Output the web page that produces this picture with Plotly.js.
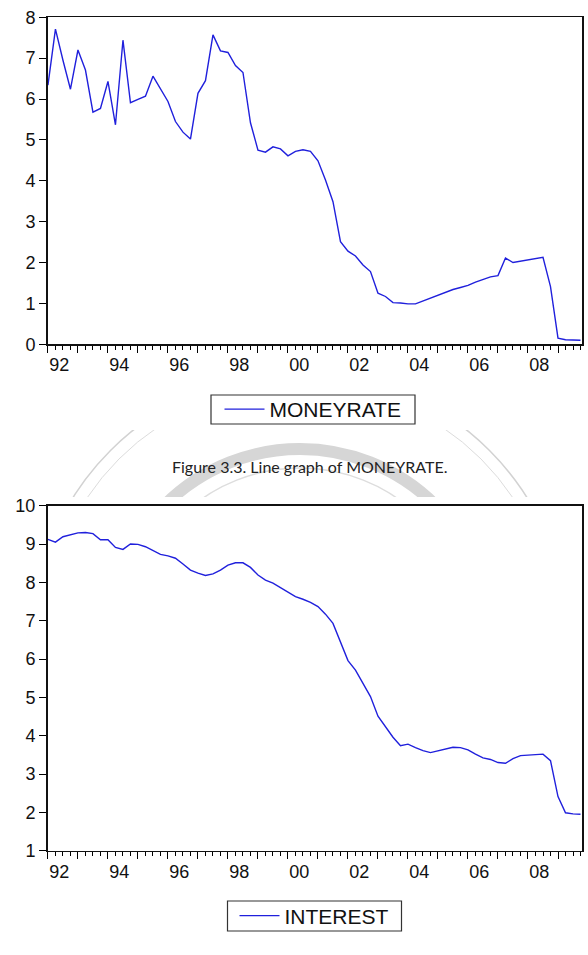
<!DOCTYPE html>
<html>
<head>
<meta charset="utf-8">
<script src="https://cdn.plot.ly/plotly-3.0.1.min.js"></script>
<style>
  html, body { margin: 0; padding: 0; background: #fff; }
  #chart { width: 588px; height: 955px; }
</style>
</head>
<body>
<div id="chart"></div>
<script>
// Quarterly series, 1992Q1 - 2009Q4
const firstYear = 1992;
const lastYear = 2009;

const moneyrate = [
  6.34, 7.71, 6.95, 6.24, 7.20, 6.71, 5.68, 5.77, 6.43, 5.37,
  7.44, 5.91, 5.99, 6.07, 6.56, 6.26, 5.94, 5.45, 5.19, 5.02,
  6.14, 6.45, 7.57, 7.18, 7.14, 6.82, 6.65, 5.42, 4.75, 4.70,
  4.83, 4.78, 4.61, 4.72, 4.76, 4.72, 4.49, 4.02, 3.49, 2.51,
  2.28, 2.16, 1.94, 1.78, 1.25, 1.17, 1.02, 1.01, 0.99, 0.99,
  1.06, 1.14, 1.21, 1.27, 1.34, 1.39, 1.44, 1.52, 1.59, 1.65,
  1.68, 2.11, 2.00, 2.03, 2.07, 2.09, 2.13, 1.41, 0.15, 0.11,
  0.10, 0.10
];

const interest = [
  9.12, 9.05, 9.19, 9.25, 9.29, 9.30, 9.27, 9.11, 9.11, 8.91,
  8.86, 9.00, 8.99, 8.93, 8.83, 8.73, 8.69, 8.63, 8.48, 8.32,
  8.24, 8.18, 8.22, 8.32, 8.45, 8.51, 8.51, 8.39, 8.19, 8.06,
  7.98, 7.86, 7.74, 7.63, 7.56, 7.48, 7.37, 7.17, 6.93, 6.45,
  5.96, 5.71, 5.38, 5.02, 4.51, 4.22, 3.96, 3.74, 3.78, 3.69,
  3.61, 3.56, 3.61, 3.67, 3.70, 3.69, 3.63, 3.52, 3.42, 3.38,
  3.30, 3.28, 3.40, 3.48, 3.49, 3.50, 3.52, 3.35, 2.41, 1.99,
  1.96, 1.95
];

const yearLabelText = ['92', '94', '96', '98', '00', '02', '04', '06', '08'];
const yearLabelAt   = [1992, 1994, 1996, 1998, 2000, 2002, 2004, 2006, 2008];

const moneyTicks    = [0, 1, 2, 3, 4, 5, 6, 7, 8];
const interestTicks = [1, 2, 3, 4, 5, 6, 7, 8, 9, 10];

const caption = 'Figure 3.3. Line graph of MONEYRATE.';

// quarter positions on a decimal-year scale
const quarterPos = [];
for (let y = firstYear; y <= lastYear; y++) {
  for (let q = 0; q < 4; q++) quarterPos.push(y + q / 4);
}
// year labels sit in the middle of each year's four quarters
const labelPos = yearLabelAt.map(y => y + 0.375);

const W = 588, H = 955;
const px = v => v / W;
const py = v => 1 - v / H;

const FONT = 'Liberation Sans, Arial, sans-serif';
const LINE = '#2020dc';
const xRange = [1991.985, 2009.8];
const xDomain = [px(47.5), px(582)];

function timeAxis(anchor) {
  return {
    domain: xDomain, anchor: anchor, range: xRange,
    tickmode: 'linear', tick0: firstYear, dtick: 1,
    ticks: 'outside', ticklen: 7, tickwidth: 1, tickcolor: '#000',
    showticklabels: false,
    minor: { tickmode: 'linear', tick0: firstYear, dtick: 0.25, ticks: 'outside',
             ticklen: 4, tickwidth: 1, tickcolor: '#000', showgrid: false },
    showline: true, linecolor: '#111', linewidth: 1.5, mirror: true,
    showgrid: false, zeroline: false, fixedrange: true
  };
}
function labelAxis(over, anchor) {
  return {
    overlaying: over, anchor: anchor, side: 'bottom', range: xRange,
    tickmode: 'array', tickvals: labelPos, ticktext: yearLabelText,
    ticks: '', ticklabelstandoff: 8,
    tickfont: { family: FONT, size: 18, color: '#111' },
    showline: false, showgrid: false, zeroline: false, fixedrange: true
  };
}
function valueAxis(domain, anchor, range, ticks) {
  return {
    domain: domain, anchor: anchor, range: range,
    tickmode: 'array', tickvals: ticks, ticktext: ticks.map(String),
    ticks: 'outside', ticklen: 7, tickwidth: 1, tickcolor: '#000',
    tickfont: { family: FONT, size: 18, color: '#111' },
    showline: true, linecolor: '#111', linewidth: 1.5, mirror: true,
    showgrid: false, zeroline: false, fixedrange: true
  };
}

const traces = [
  { x: quarterPos, y: moneyrate, name: 'MONEYRATE', type: 'scatter', mode: 'lines',
    line: { color: LINE, width: 1.4 }, xaxis: 'x', yaxis: 'y', legend: 'legend' },
  { x: quarterPos, y: interest, name: 'INTEREST', type: 'scatter', mode: 'lines',
    line: { color: LINE, width: 1.4 }, xaxis: 'x2', yaxis: 'y2', legend: 'legend2' },
  { x: [firstYear], y: [null], xaxis: 'x3', yaxis: 'y', showlegend: false,
    hoverinfo: 'skip', mode: 'lines' },
  { x: [firstYear], y: [null], xaxis: 'x4', yaxis: 'y2', showlegend: false,
    hoverinfo: 'skip', mode: 'lines' }
];

// faint seal printed on the page between the two figures
const sealCx = 300, sealCy = 640;
function ring(r, width, color) {
  return { type: 'circle', xref: 'paper', yref: 'paper', layer: 'below',
           x0: px(sealCx - r), x1: px(sealCx + r), y0: py(sealCy + r), y1: py(sealCy - r),
           line: { color: color, width: width }, fillcolor: 'rgba(0,0,0,0)' };
}
function cover(y0, y1) {
  return { type: 'rect', xref: 'paper', yref: 'paper', layer: 'below',
           x0: 0, x1: 1, y0: py(y1), y1: py(y0),
           line: { width: 0 }, fillcolor: '#ffffff' };
}
// frame drawn round each legend
function legendFrame(x0, x1, y0, y1) {
  return { type: 'rect', xref: 'paper', yref: 'paper', layer: 'below',
           x0: px(x0), x1: px(x1), y0: py(y1), y1: py(y0),
           line: { color: '#333', width: 1.2 }, fillcolor: '#ffffff' };
}
const shapes = [
  ring(268, 1.5, '#d2d2d2'),
  ring(256, 1, '#dcdcdc'),
  ring(191, 12, '#d6d6d6'),
  ring(172, 1.5, '#dddddd'),
  cover(0, 430),
  cover(497, H),
  legendFrame(211, 415, 395, 424),
  legendFrame(227.5, 401.5, 901, 931)
];

const legendStyle = {
  xanchor: 'center', yanchor: 'middle',
  bgcolor: 'rgba(0,0,0,0)', borderwidth: 0, itemwidth: 40,
  font: { family: FONT, size: 21, color: '#111' }
};

const layout = {
  width: W, height: H,
  margin: { l: 0, r: 0, t: 0, b: 0 },
  paper_bgcolor: '#fff', plot_bgcolor: 'rgba(0,0,0,0)',
  font: { family: FONT, color: '#111' },
  xaxis: timeAxis('y'),
  yaxis: valueAxis([py(344.3), py(17.3)], 'x', [0, 8], moneyTicks),
  xaxis2: timeAxis('y2'),
  yaxis2: valueAxis([py(850.7), py(505.7)], 'x2', [1, 10], interestTicks),
  xaxis3: labelAxis('x', 'y'),
  xaxis4: labelAxis('x2', 'y2'),
  legend: Object.assign({ x: px(313), y: py(409.5) }, legendStyle),
  legend2: Object.assign({ x: px(314.5), y: py(916) }, legendStyle),
  shapes: shapes,
  annotations: [
    { text: caption, xref: 'paper', yref: 'paper', x: px(309), y: py(467),
      xanchor: 'center', yanchor: 'middle', showarrow: false,
      font: { family: 'Lato, Open Sans, sans-serif', size: 16, color: '#222' } }
  ],
  showlegend: true
};

Plotly.newPlot('chart', traces, layout, { staticPlot: true, displayModeBar: false });
</script>
</body>
</html>
